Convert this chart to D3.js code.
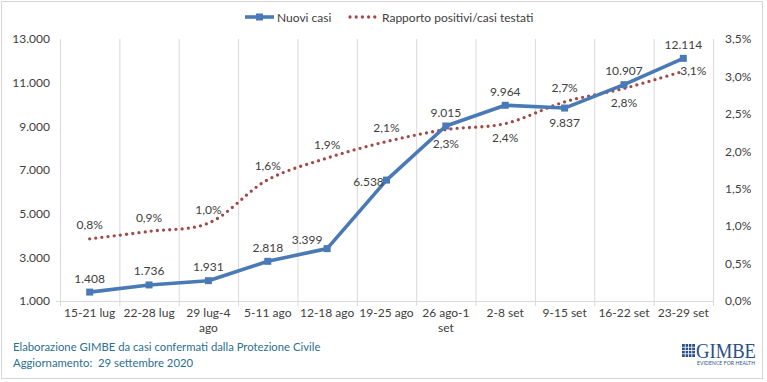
<!DOCTYPE html>
<html>
<head>
<meta charset="utf-8">
<script src="https://cdn.jsdelivr.net/npm/d3@7"></script>
<style>
  body { margin: 0; background: #fff; }
  text { font-family: Lato, "Open Sans", sans-serif; fill: #404040; }
</style>
</head>
<body>
<svg id="chart" width="767" height="382"></svg>
<script>
"use strict";

// dati
var categories = ["15-21 lug", "22-28 lug", "29 lug-4 ago", "5-11 ago", "12-18 ago", "19-25 ago",
    "26 ago-1 set", "2-8 set", "9-15 set", "16-22 set", "23-29 set"]
var nuoviCasi = [1408, 1736, 1931, 2818, 3399, 6538, 9015, 9964, 9837, 10907, 12114]
var rapporto = [0.0083, 0.0093, 0.0104, 0.0162, 0.0191, 0.0213, 0.0229, 0.0237, 0.0266, 0.0284, 0.0307]
var leftTicks = [1000, 3000, 5000, 7000, 9000, 11000, 13000]
var rightTicks = [0, 0.005, 0.01, 0.015, 0.02, 0.025, 0.03, 0.035]
var seriesNames = ["Nuovi casi", "Rapporto positivi/casi testati"]

// posizione etichette (t sopra, b sotto, l sinistra, r destra, tl sopra-sinistra)
var posCasi = ["t", "t", "t", "t", "tl", "l", "t", "t", "b", "t", "t"]
var posRapp = ["t", "t", "t", "t", "t", "t", "b", "b", "t", "b", "r"]

var it = d3.formatLocale({ decimal: ",", thousands: ".", grouping: [3], currency: ["€", ""] })
var fmtInt = it.format(",d")
var fmtPct = it.format(".1%")

var blue = "#4a7ab5"
var red = "#a14a48"
var grid = "#d9d9d9"
var teal = "#2c7090"

var svg = d3.select("#chart")
var plot = { left: 60, right: 713, top: 39, bottom: 301 }

var x = d3.scaleBand().domain(categories).range([plot.left, plot.right])
var yL = d3.scaleLinear().domain([1000, 13000]).range([plot.bottom, plot.top])
var yR = d3.scaleLinear().domain([0, 0.035]).range([plot.bottom, plot.top])
var cx = d => x(d) + x.bandwidth() / 2

// cornice
svg.append("rect")
    .attr("x", 1.5).attr("y", 1.5).attr("width", 761).attr("height", 377)
    .attr("fill", "none").attr("stroke", "#d6d6d6")

// griglia verticale
var bounds = categories.map(c => x(c)).concat([plot.right])
svg.append("g").selectAll("line").data(bounds).join("line")
    .attr("x1", d => d + 0.5).attr("x2", d => d + 0.5)
    .attr("y1", plot.top).attr("y2", plot.bottom + 5)
    .attr("stroke", grid)

// asse x
svg.append("line")
    .attr("x1", plot.left - 4).attr("x2", plot.right)
    .attr("y1", plot.bottom + 0.5).attr("y2", plot.bottom + 0.5)
    .attr("stroke", grid)

var xAxis = d3.axisBottom(x).tickSize(0).tickPadding(0)
var gx = svg.append("g").attr("transform", "translate(0," + (plot.bottom + 7) + ")").call(xAxis)
gx.select(".domain").remove()
gx.selectAll("text").attr("font-size", 12).attr("fill", "#404040")
    .style("font-family", "Lato").each(wrap)

function wrap() {
    var t = d3.select(this)
    var words = t.text().split(" ")
    if (this.getComputedTextLength() <= x.bandwidth() - 2) return
    var last = words.pop()
    t.text(null)
    t.append("tspan").attr("x", 0).attr("dy", "0.71em").text(words.join(" "))
    t.append("tspan").attr("x", 0).attr("dy", "1.32em").text(last)
}

// asse sinistro
var gl = svg.append("g").attr("transform", "translate(" + (plot.left - 10) + ",0)")
    .call(d3.axisLeft(yL).tickValues(leftTicks).tickFormat(fmtInt).tickSize(0).tickPadding(0))
gl.select(".domain").remove()
gl.selectAll("text").attr("font-size", 12).attr("fill", "#404040").style("font-family", "Lato")

// asse destro
var gr = svg.append("g").attr("transform", "translate(" + (plot.right + 12) + ",0)")
    .call(d3.axisRight(yR).tickValues(rightTicks).tickFormat(fmtPct).tickSize(0).tickPadding(0))
gr.select(".domain").remove()
gr.selectAll("text").attr("font-size", 12).attr("fill", "#404040").style("font-family", "Lato")

// linea rapporto (punteggiata, smussata)
var lineR = d3.line()
    .x((d, i) => cx(categories[i]))
    .y(d => yR(d))
    .curve(d3.curveCatmullRom.alpha(0.5))

svg.append("path").datum(rapporto)
    .attr("d", lineR)
    .attr("fill", "none").attr("stroke", red).attr("stroke-width", 3.3)
    .attr("stroke-linecap", "round").attr("stroke-dasharray", "0,6.2")

// linea nuovi casi
var lineC = d3.line()
    .x((d, i) => cx(categories[i]))
    .y(d => yL(d))

svg.append("path").datum(nuoviCasi)
    .attr("d", lineC)
    .attr("fill", "none").attr("stroke", blue).attr("stroke-width", 3.6)
    .attr("stroke-linejoin", "round")

svg.append("g").selectAll("rect").data(nuoviCasi).join("rect")
    .attr("x", (d, i) => cx(categories[i]) - 3.5)
    .attr("y", d => yL(d) - 3.5)
    .attr("width", 7).attr("height", 7)
    .attr("fill", blue)

// etichette
var offs = {
    t: [0, -14], b: [0, 14], l: [-18, 1], r: [10, -1], tl: [-20, -9]
}

function labels(values, pos, yScale, fmt) {
    svg.append("g").selectAll("text").data(values).join("text")
        .attr("x", (d, i) => cx(categories[i]) + offs[pos[i]][0])
        .attr("y", (d, i) => yScale(d) + offs[pos[i]][1])
        .attr("text-anchor", "middle")
        .attr("dominant-baseline", "central")
        .attr("font-size", 12)
        .text(fmt)
}
labels(nuoviCasi, posCasi, yL, fmtInt)
labels(rapporto, posRapp, yR, fmtPct)

// legenda
var leg = svg.append("g").attr("transform", "translate(0,17)")
leg.append("line").attr("x1", 245).attr("x2", 274).attr("stroke", blue).attr("stroke-width", 3.6)
leg.append("rect").attr("x", 256).attr("y", -3.5).attr("width", 7).attr("height", 7).attr("fill", blue)
leg.append("text").attr("x", 277).attr("dominant-baseline", "central").attr("font-size", 12).text(seriesNames[0])
leg.append("line").attr("x1", 350).attr("x2", 378).attr("stroke", red).attr("stroke-width", 3.3)
    .attr("stroke-linecap", "round").attr("stroke-dasharray", "0,6.2")
leg.append("text").attr("x", 382).attr("dominant-baseline", "central").attr("font-size", 12).text(seriesNames[1])

// note
var foot = svg.append("g").attr("font-size", 11.3)
foot.append("text").attr("x", 13).attr("y", 351).style("fill", teal)
    .text("Elaborazione GIMBE da casi confermati dalla Protezione Civile")
foot.append("text").attr("x", 13).attr("y", 367).style("fill", teal)
    .style("white-space", "pre")
    .text("Aggiornamento:  29 settembre 2020")

// logo
var logo = svg.append("g").attr("transform", "translate(682,344)")
logo.append("rect").attr("width", 13).attr("height", 13).attr("fill", "#2b4f88")
d3.range(1, 4).forEach(function (k) {
    logo.append("line").attr("x1", k * 3.25).attr("x2", k * 3.25).attr("y1", 0).attr("y2", 13)
        .attr("stroke", "#fff").attr("stroke-width", 0.8)
    logo.append("line").attr("y1", k * 3.25).attr("y2", k * 3.25).attr("x1", 0).attr("x2", 13)
        .attr("stroke", "#fff").attr("stroke-width", 0.8)
})
logo.append("text").attr("x", 14).attr("y", 13.5)
    .style("font-family", "'Liberation Serif', 'DejaVu Serif', serif")
    .style("fill", "#2b4f88").attr("font-size", 20).attr("textLength", 60)
    .attr("lengthAdjust", "spacingAndGlyphs").text("GIMBE")
logo.append("text").attr("x", 15).attr("y", 21)
    .style("fill", "#2b4f88").attr("font-size", 5).attr("textLength", 58)
    .attr("lengthAdjust", "spacing").text("EVIDENCE FOR HEALTH")
</script>
</body>
</html>
